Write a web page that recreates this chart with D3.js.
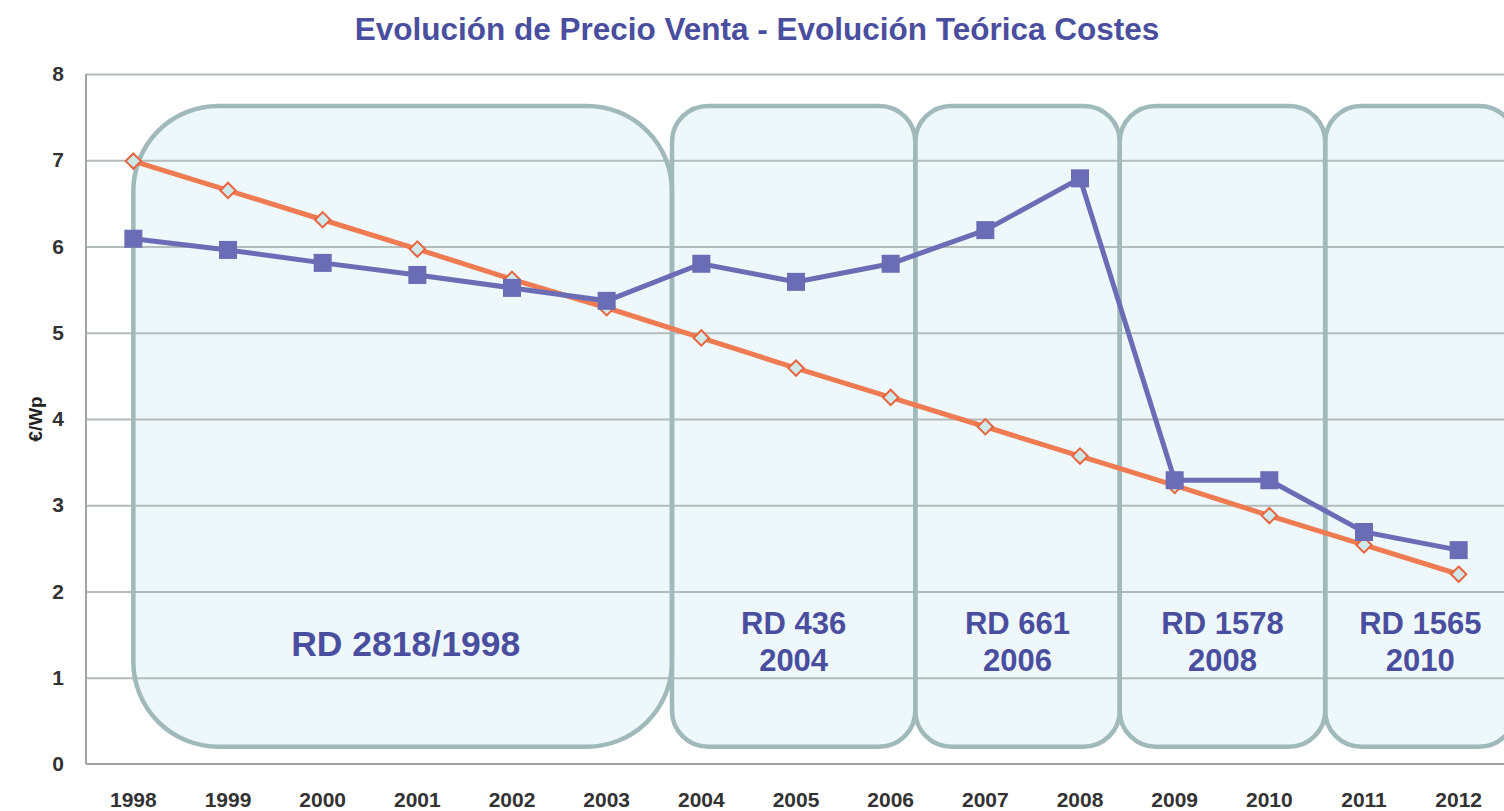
<!DOCTYPE html>
<html lang="es">
<head>
    <meta charset="UTF-8">
    <script src="https://cdn.jsdelivr.net/npm/d3@7"></script>
    <title>Evolución de Precio Venta</title>
    <style>
        body { margin: 0; background: white; overflow: hidden; }
        svg { display: block; font-family: "Liberation Sans", Arial, sans-serif; }
        .tick text { fill: #333; font-size: 21px; font-weight: bold; }
        .grid line { stroke: #b3bbbb; stroke-width: 2px; }
    </style>
</head>
<body>
    <div id="chart"></div>

    <script>
        // data
        const years = ["1998", "1999", "2000", "2001", "2002", "2003", "2004", "2005",
                       "2006", "2007", "2008", "2009", "2010", "2011", "2012"];
        const precioVenta = [6.09, 5.96, 5.81, 5.67, 5.52, 5.37, 5.80, 5.59, 5.80, 6.19, 6.79, 3.29, 3.29, 2.69, 2.48];
        const costeTeorico = [6.99, 6.65, 6.31, 5.97, 5.62, 5.29, 4.94, 4.59, 4.25, 3.91, 3.57, 3.23, 2.88, 2.54, 2.20];
        const yTicks = [0, 1, 2, 3, 4, 5, 6, 7, 8];

        // regulatory periods (in years along the axis)
        const periodStart = [1998, 2003.69, 2006.26, 2008.42, 2010.59];
        const periodEnd = [2003.69, 2006.26, 2008.42, 2010.59, 2012.6];
        const periodLabels = [["RD 2818/1998"], ["RD 436", "2004"], ["RD 661", "2006"], ["RD 1578", "2008"], ["RD 1565", "2010"]];

        const width = 1504, height = 811;
        const mLeft = 86, mRight = 1506, mTop = 74, mBottom = 764;

        const svg = d3.select("#chart").append("svg")
            .attr("width", width)
            .attr("height", height);

        const x = d3.scaleBand().domain(years).range([mLeft, mRight]).padding(0);
        const xc = d => x(d) + x.bandwidth() / 2;
        // continuous version of the year axis for the period boxes
        const xYear = d3.scaleLinear().domain([1997.5, 2012.5]).range([mLeft, mRight]);
        const y = d3.scaleLinear().domain([0, 8]).range([mBottom, mTop]);

        // title
        svg.append("text")
            .attr("x", 757).attr("y", 40)
            .attr("text-anchor", "middle")
            .attr("font-size", 31.5).attr("font-weight", "bold")
            .attr("fill", "#4a4e9e")
            .text("Evolución de Precio Venta - Evolución Teórica Costes");

        // period boxes, fill first
        const boxTop = y(7.63), boxBottom = y(0.2);
        const radius = i => i === 0 ? 85 : 36;
        const boxRect = (sel, s, i) => sel
            .attr("x", xYear(s)).attr("y", boxTop)
            .attr("width", xYear(periodEnd[i]) - xYear(s))
            .attr("height", boxBottom - boxTop)
            .attr("rx", radius(i)).attr("ry", radius(i));

        periodStart.forEach((s, i) => {
            svg.append("rect").call(boxRect, s, i).attr("fill", "#eef7fa");
        });

        // gridlines
        svg.append("g")
            .attr("class", "grid")
            .attr("transform", `translate(${mLeft},0)`)
            .call(d3.axisLeft(y).tickValues(yTicks.filter(d => d > 0)).tickSize(-(width - mLeft)).tickFormat(""))
            .call(g => g.select(".domain").remove());

        // box outlines over the gridlines
        periodStart.forEach((s, i) => {
            svg.append("rect").call(boxRect, s, i)
                .attr("fill", "none")
                .attr("stroke", "#a0b9ba")
                .attr("stroke-width", 4.5);
        });

        // period labels
        periodLabels.forEach((lines, i) => {
            const mid = (xYear(periodStart[i]) + xYear(periodEnd[i])) / 2;
            const t = svg.append("text")
                .attr("text-anchor", "middle")
                .attr("font-weight", "bold")
                .attr("fill", "#4a4e9e");
            if (lines.length === 1) {
                t.attr("x", mid + 3).attr("y", y(1.4) + 13).attr("font-size", 35.5).text(lines[0]);
            } else {
                lines.forEach((l, k) => {
                    t.append("tspan")
                        .attr("x", mid)
                        .attr("y", y(1.4) - 9 + k * 37)
                        .attr("font-size", 31)
                        .text(l);
                });
            }
        });

        // axes
        svg.append("line")
            .attr("x1", mLeft).attr("x2", mLeft).attr("y1", mTop).attr("y2", mBottom)
            .attr("stroke", "#a3a3a3").attr("stroke-width", 2);
        svg.append("line")
            .attr("x1", mLeft).attr("x2", width).attr("y1", mBottom).attr("y2", mBottom)
            .attr("stroke", "#a3a3a3").attr("stroke-width", 2);

        svg.append("g")
            .attr("transform", `translate(${mLeft - 22},0)`)
            .call(d3.axisLeft(y).tickValues(yTicks).tickSize(0).tickPadding(0))
            .call(g => g.select(".domain").remove());

        svg.append("g")
            .attr("transform", `translate(0,${mBottom + 28})`)
            .call(d3.axisBottom(x).tickSize(0).tickPadding(0))
            .call(g => g.select(".domain").remove());

        svg.append("text")
            .attr("transform", `translate(42,${y(4)}) rotate(-90)`)
            .attr("text-anchor", "middle")
            .attr("font-size", 19).attr("font-weight", "bold")
            .attr("fill", "#222")
            .text("€/Wp");

        // orange theoretical cost
        const line = d3.line().x((d, i) => xc(years[i])).y(d => y(d));
        svg.append("path")
            .datum(costeTeorico)
            .attr("d", line)
            .attr("fill", "none")
            .attr("stroke", "#ee7b52")
            .attr("stroke-width", 5);
        svg.append("g").selectAll("path")
            .data(costeTeorico)
            .join("path")
            .attr("d", d3.symbol(d3.symbolDiamond2, 150))
            .attr("transform", (d, i) => `translate(${xc(years[i])},${y(d)})`)
            .attr("fill", "#cfe9ea")
            .attr("stroke", "#e8643e")
            .attr("stroke-width", 2);

        // blue sale price
        svg.append("path")
            .datum(precioVenta)
            .attr("d", line)
            .attr("fill", "none")
            .attr("stroke", "#6a6db5")
            .attr("stroke-width", 5);
        svg.append("g").selectAll("rect")
            .data(precioVenta)
            .join("rect")
            .attr("x", (d, i) => xc(years[i]) - 9)
            .attr("y", d => y(d) - 9)
            .attr("width", 18).attr("height", 18)
            .attr("fill", "#6a6db5");
    </script>
</body>
</html>
